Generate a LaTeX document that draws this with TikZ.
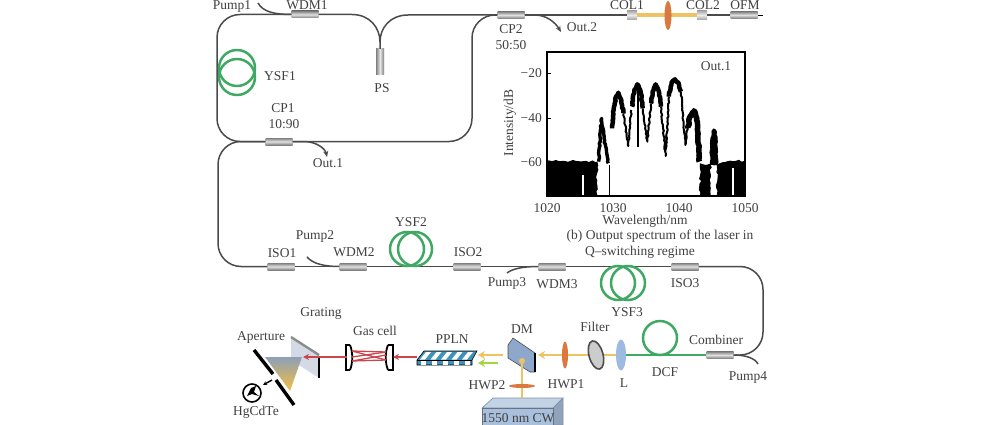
\documentclass[tikz,border=0pt]{standalone}
\usepackage{fontspec}
\setmainfont{Liberation Serif}
\usetikzlibrary{shapes.geometric, arrows.meta, decorations.pathmorphing}
\definecolor{fibregray}{HTML}{4A4A4A}
\definecolor{coilgreen}{HTML}{3FA862}
\definecolor{beamyellow}{HTML}{EFC263}
\definecolor{beamred}{HTML}{C9474C}
\definecolor{plateorange}{HTML}{D9783F}
\definecolor{lensblue}{HTML}{9DBBE0}
\definecolor{boxblue}{HTML}{A9C0DC}
\definecolor{stripeblue}{HTML}{3F93B8}
\definecolor{gratinggray}{HTML}{D3DAE6}
\definecolor{rainbowtop}{HTML}{7F9BC8}
\definecolor{rainbowmid}{HTML}{8FD56A}
\definecolor{rainbowend}{HTML}{F5C040}
\tikzset{
    every node/.style={font=\fontsize{13.5}{15}\selectfont, text=black!75},
    fibre/.style={draw=fibregray, line width=1.5pt},
    fibrearrow/.style={fibre, -{Stealth[length=6pt,width=5pt]}},
    coupler/.style={rectangle, minimum width=27pt, minimum height=7pt, inner sep=0pt,
        top color=black!50, bottom color=black!50, middle color=black!12,
        append after command={
            [line width=2.6pt, draw=black!80]
            (\tikzlastnode.west) edge ++(-5,0)
            (\tikzlastnode.east) edge ++(5,0)}},
    coilring/.style={circle, draw=coilgreen, line width=2.5pt, inner sep=0pt, minimum size=#1},
    greenfibre/.style={draw=coilgreen, line width=2.8pt},
    yellowbeam/.style={draw=beamyellow, line width=2.6pt},
    yellowarrow/.style={yellowbeam, -{Stealth[length=7pt,width=8pt]}},
    redbeam/.style={draw=beamred, line width=1.3pt},
    redarrow/.style={redbeam, -{Stealth[length=6pt,width=6pt]}},
    lens/.style={ellipse, inner sep=0pt, fill=#1, minimum width=5pt, minimum height=29pt},
    coll/.style={rectangle, minimum width=10pt, minimum height=9pt, inner sep=0pt,
        top color=black!35, bottom color=black!35, middle color=black!8},
    blackbar/.style={draw=black, line width=3.4pt},
    mirror/.style={draw=black, line width=1.8pt},
    toplabel/.style={anchor=base},
    noisefloor/.style={black, decorate, decoration={random steps, segment length=3pt, amplitude=1.2pt}},
    noisetrace/.style={draw=black, line width=#1, line join=round, decorate,
        decoration={random steps, segment length=2pt, amplitude=0.6pt}},
}
\begin{document}
\begin{tikzpicture}[x=1pt, y=-1pt]
    \useasboundingbox (0,0) rectangle (981,425);

    % first ring
    \node[coupler] (wdm1) at (305,14.5) {};
    \node[rectangle, minimum width=8pt, minimum height=26pt, inner sep=0pt,
        left color=black!50, right color=black!50, middle color=black!10] (ps) at (380,62) {};
    \node[coupler] (cp1) at (279,141.5) {};
    \node[coupler] (cp2) at (511,15) {};
    \coordinate (pumpa) at (258,3);
    \coordinate (loopa) at (217,14.5);
    \coordinate (loopb) at (217,141.5);
    \coordinate (loopc) at (472,141.5);
    \coordinate (loopd) at (472,15);
    \coordinate (psjoin) at (380,42);
    \coordinate (outa) at (327,157);
    \coordinate (outb) at (561,32);
    \draw[fibre] (pumpa) .. controls (263,12) and (275,14.5) .. (wdm1.west);
    \draw[fibre, rounded corners=23pt] (wdm1.west) -- (loopa) -- (loopb) -- (cp1.west);
    \draw[fibre, rounded corners=23pt] (cp1.east) -- (loopc) -- (loopd) -- (cp2.west);
    \draw[fibre] (wdm1.east) -- (352,14.5) .. controls (370,14.5) and (380,28) .. (psjoin) -- (ps.north);
    \draw[fibre] (psjoin) .. controls (380,28) and (390,15) .. (408,15) -- (cp2.west);
    \draw[fibrearrow] (cp1.east) -- (305,141.5) .. controls (316,142) and (325,148) .. (outa);
    \draw[fibrearrow] (cp2.east) -- (535,15) .. controls (546,15) and (555,22) .. (outb);

    \node[coilring=36pt] (ysf1a) at (237,68) {};
    \node[coilring=36pt] (ysf1b) at (237,77) {};

    \node[toplabel] (pump1) at (232,10) {Pump1};
    \node[toplabel] (wdm1t) at (307,10) {WDM1};
    \node (ysf1t) at (280,76) {YSF1};
    \node (pst) at (382,88) {PS};
    \node (cp1t) at (283,108) {CP1};
    \node (cp1r) at (284,124) {10:90};
    \node (out1t) at (328,163) {Out.1};
    \node (cp2t) at (511,29) {CP2};
    \node (cp2r) at (511,45) {50:50};
    \node (out2t) at (582,27) {Out.2};

    % output arm
    \node[coll] (col1) at (632,15) {};
    \node[coll] (col2) at (702,15) {};
    \node[coupler] (ofm) at (744,15) {};
    \draw[fibre] (cp2.east) -- (col1.west);
    \draw[fibre] (col2.east) -- (ofm.west);
    \draw[yellowbeam, line width=3.6pt] (col1.east) -- (col2.west);
    \node[lens=plateorange, minimum height=29pt, minimum width=7pt] (col3) at (668,15.5) {};
    \node[toplabel] (col1t) at (627,10) {COL1};
    \node[toplabel] (col2t) at (703,10) {COL2};
    \node[toplabel] (ofmt) at (745,10) {OFM};

    % spectrum
    \begin{scope}[shift={(490,50)}, x=0.3333pt, y=-0.3333pt]
        \clip (171,0) rectangle (765,438);
        \fill[noisefloor] (171,332) -- (322,335) -- (322,438) -- (171,438) -- cycle;
        \fill[noisefloor] (630,340) -- (662,345) -- (662,438) -- (630,438) -- cycle;
        \fill[noisefloor] (680,345) -- (720,332) -- (765,332) -- (765,438) -- (680,438) -- cycle;
        \fill[white] (277,375) rectangle (281,438);
        \fill[white] (725,355) rectangle (733,438);
        \draw[noisetrace=3.4pt] (326,335) -- (330,260) -- (335,205) -- (342,265) -- (350,310) -- (355,340);
        \draw[noisetrace=4.5pt] (366,235) -- (372,170) -- (378,140) -- (385,128) -- (394,150) -- (400,190);
        \draw[noisetrace=4.5pt] (426,170) -- (433,120) -- (442,103) -- (452,125) -- (458,175);
        \draw[noisetrace=4.5pt] (483,160) -- (488,125) -- (497,103) -- (508,130) -- (513,170);
        \draw[noisetrace=4.5pt] (537,140) -- (545,97) -- (555,88) -- (566,100) -- (573,125);
        \draw[noisetrace=2pt] (400,190) -- (415,288) -- (424,180);
        \draw[noisetrace=2pt] (458,175) -- (472,275) -- (483,160);
        \draw[noisetrace=2pt] (513,170) -- (527,318) -- (537,140);
        \draw[noisetrace=2pt] (573,125) -- (586,285) -- (594,225);
        \draw[noisetrace=5.5pt] (594,235) -- (600,200) -- (612,182) -- (622,215) -- (628,335);
        \draw[noisetrace=4.5pt] (666,345) -- (668,265) -- (672,242) -- (676,270) -- (678,345);
        \draw[black, line width=1.2pt] (358,345) -- (358,438);
        \draw[black, line width=1.2pt] (444,100) -- (444,290);
    \end{scope}
    \node[draw=black, line width=1.5pt, minimum width=198pt, minimum height=144pt,
        inner sep=0pt] (spec) at (646,124) {};
    \foreach \tick/\ypos in {20/73, 40/118, 60/162} {
        \draw[black, line width=0.7pt] (547,\ypos) -- ++(4,0);
        \node[anchor=east, inner sep=0pt] (ty\tick) at (542,\ypos) {−\tick};
    }
    \foreach \tick/\xpos in {1020/547, 1030/613, 1040/679, 1050/745} {
        \node (tx\tick) at (\xpos,208) {\tick};
    }
    \node (xlab) at (645,221) {Wavelength/nm};
    \node[rotate=90] (ylab) at (510,123) {Intensity/dB};
    \node (speca) at (660,236) {(b) Output spectrum of the laser in};
    \node (specb) at (640,252) {Q–switching regime};
    \node (out1p) at (716,66) {Out.1};

    % second fibre line
    \node[coupler] (iso1) at (281,266.5) {};
    \node[coupler] (wdm2) at (353,266.5) {};
    \node[coupler] (iso2) at (467,266.5) {};
    \node[coupler] (wdm3) at (552,266.5) {};
    \node[coupler] (iso3) at (685,266.5) {};
    \node[coupler] (comb) at (720,355) {};
    \coordinate (bendb) at (218,266.5);
    \coordinate (bendc) at (763,266.5);
    \coordinate (bendd) at (763,355);
    \coordinate (pumpb) at (307,257);
    \coordinate (pumpc) at (507,273);
    \coordinate (pumpd) at (758,364);
    \draw[fibre, rounded corners=23pt] (cp1.west) -- (218,141.5) -- (bendb) -- (iso1.west);
    \draw[fibre] (iso1.east) -- (wdm2.west);
    \draw[fibre] (wdm2.east) -- (iso2.west);
    \draw[fibre] (iso2.east) -- (wdm3.west);
    \draw[fibre] (wdm3.east) -- (iso3.west);
    \draw[fibre, rounded corners=23pt] (iso3.east) -- (bendc) -- (bendd) -- (comb.east);
    \draw[fibre] (pumpb) .. controls (313,264) and (325,266.5) .. (wdm2.west);
    \draw[fibre] (pumpc) .. controls (512,269) and (522,266.5) .. (wdm3.west);
    \draw[fibre] (comb.east) .. controls (745,355) and (755,358) .. (pumpd);

    \node[coilring=34pt] (ysf2a) at (407,249) {};
    \node[coilring=34pt] (ysf2b) at (415,249) {};
    \node[coilring=34pt] (ysf3a) at (618,283) {};
    \node[coilring=34pt] (ysf3b) at (628,283) {};
    \node[coilring=34pt] (dcfc) at (660,338) {};

    \node (iso1t) at (282,253) {ISO1};
    \node (pump2t) at (315,236) {Pump2};
    \node (wdm2t) at (354,252) {WDM2};
    \node (ysf2t) at (411,222) {YSF2};
    \node (iso2t) at (468,252) {ISO2};
    \node (pump3t) at (507,283) {Pump3};
    \node (wdm3t) at (557,284) {WDM3};
    \node (ysf3t) at (627,312) {YSF3};
    \node (iso3t) at (685,283) {ISO3};
    \node (combt) at (716,340) {Combiner};
    \node (pump4t) at (748,377) {Pump4};
    \node (dcft) at (665,372) {DCF};

    % free space part
    \node[lens=plateorange, minimum width=6pt, minimum height=27pt] (hwp1) at (565,355) {};
    \node[lens=lensblue, minimum width=10pt, minimum height=31pt] (lensl) at (621,355) {};
    \coordinate (dmspot) at (522,361);
    \coordinate (beamend) at (538,355);
    \draw[greenfibre] (comb.west) -- (lensl.east);
    \draw[yellowbeam] (lensl.west) -- (hwp1.east);
    \draw[yellowarrow] (hwp1.west) -- (beamend);
    \node[ellipse, draw=black!70, line width=1.6pt, fill=black!20, inner sep=0pt,
        minimum width=14pt, minimum height=29pt, rotate=15] (filter) at (596,355) {};

    \draw[draw=black!70, fill=lensblue!90!black, line width=0.6pt]
        (508,345) -- (513,338) -- (535,353) -- (535,372) -- (530,372) -- (508,358) -- cycle;
    \draw[draw=black, line width=1.4pt] (535,353) -- (535,372);
    \draw[draw=boxblue!75!black, fill=boxblue!70!white, line width=0.6pt]
        (482,408) -- (493,398) -- (563,398) -- (553,408) -- cycle;
    \draw[draw=boxblue!75!black, fill=boxblue!85!black, line width=0.6pt]
        (553,408) -- (563,398) -- (563,425) -- (553,425) -- cycle;
    \node[draw=boxblue!60!black, fill=boxblue, minimum width=71pt, minimum height=20pt,
        inner sep=0pt, anchor=north west] (cw) at (482,408) {};
    \node[inner sep=0pt] (cwt) at (518,418) {1550 nm CW};
    \coordinate (cwtop) at (522,398);
    \draw[yellowbeam] (dmspot) -- (cwtop);
    \fill[beamyellow] (dmspot) circle (3pt);
    \node[lens=plateorange, minimum width=26pt, minimum height=4pt] (hwp2) at (522,386) {};

    \coordinate (dma) at (503,355);
    \coordinate (dmb) at (498,363);
    \coordinate (pplnr) at (478,355);
    \coordinate (pplns) at (478,363);
    \draw[yellowarrow] (dma) -- (pplnr);
    \draw[yellowarrow, draw=beamyellow!70!green] (dmb) -- (pplns);

    \draw[draw=black, fill=stripeblue, line width=0.6pt]
        (417,360) -- (424,351) -- (477,351) -- (472,360) -- (472,365) -- (417,365) -- cycle;
    \foreach \i in {0,1,2,3,4} {
        \fill[white] (426+10.5*\i,352) -- (431+10.5*\i,352) -- (425+10.5*\i,359.5) -- (420+10.5*\i,359.5) -- cycle;
        \fill[white] (421+11*\i,360.5) rectangle (426+11*\i,364.5);
    }
    \draw[draw=black, line width=0.6pt] (417,360) -- (472,360);
    \coordinate (pplnl) at (417,357);

    \coordinate (cellr) at (393,357);
    \coordinate (celll) at (347,357);
    \draw[mirror] (350,345) -- (346,345) -- (346,370) -- (350,370);
    \draw[mirror] (350,345) .. controls (353,352) and (353,363) .. (350,370);
    \draw[mirror] (388,345) -- (393,345) -- (393,370) -- (388,370);
    \draw[mirror] (388,345) .. controls (385,352) and (385,363) .. (388,370);
    \draw[redbeam] (352,351) -- (386,352);
    \draw[redbeam] (352,351) -- (386,360);
    \draw[redbeam] (352,357) -- (386,352);
    \draw[redbeam] (352,361) -- (386,360);
    \draw[redbeam] (352,361) -- (386,355);
    \draw[redarrow] (pplnl) -- (cellr);

    \fill[gratinggray] (291,337) -- (319,355) -- (319,378) -- (291,360) -- cycle;
    \begin{scope}
        \clip (265,357) -- (302,357) -- (290,391) -- cycle;
        \shade[shading angle=40, top color=rainbowtop, middle color=rainbowmid,
            bottom color=rainbowend] (262,352) rectangle (305,392);
    \end{scope}
    \draw[draw=black!45, line width=2.4pt] (291,337) -- (319,355);
    \draw[draw=black, line width=1.6pt] (319,356) -- (319,378);
    \coordinate (gratl) at (303,357);
    \draw[redarrow] (celll) -- (gratl);

    \coordinate (apa) at (254,350);
    \coordinate (apb) at (273,374);
    \coordinate (apc) at (276,380);
    \coordinate (apd) at (294,405);
    \draw[blackbar] (apa) -- (apb);
    \draw[blackbar] (apc) -- (apd);
    \node[circle, draw=black, line width=1.6pt, minimum size=18pt, inner sep=0pt] (hgcdte) at (252,393) {};
    \fill[black] (247,396) -- (251,388) -- (256,386) -- (254,392) -- (259,396) -- (252,394) -- cycle;
    \coordinate (aperout) at (272,380);
    \coordinate (hgin) at (263,385);
    \draw[black, line width=1.4pt, -{Stealth[length=4pt,width=4pt]}] (aperout) -- (hgin);

    \node (dmt) at (522,329) {DM};
    \node (filtert) at (595,327) {Filter};
    \node (hwp1t) at (566,384) {HWP1};
    \node (hwp2t) at (487,385) {HWP2};
    \node (lt) at (624,383) {L};
    \node (pplnt) at (452,339) {PPLN};
    \node (cellt) at (375,331) {Gas cell};
    \node (gratt) at (321,313) {Grating};
    \node (apert) at (261,337) {Aperture};
    \node (hgt) at (256,412) {HgCdTe};
\end{tikzpicture}
\end{document}
